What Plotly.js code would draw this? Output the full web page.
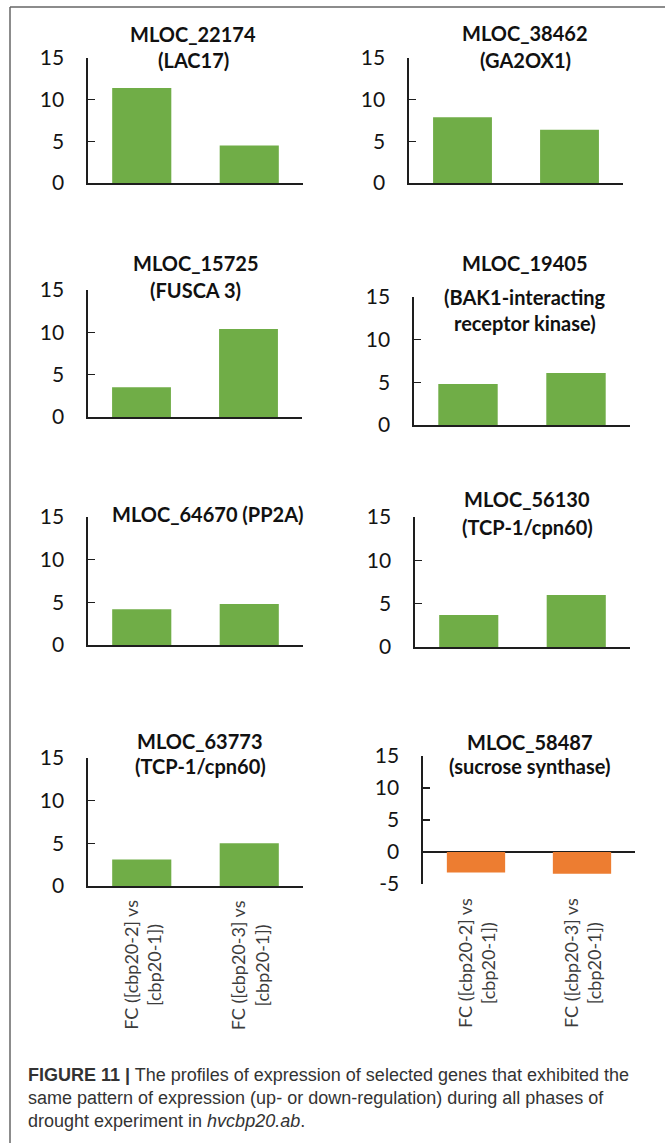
<!DOCTYPE html>
<html>
<head>
<meta charset="utf-8">
<script src="https://cdn.plot.ly/plotly-3.0.1.min.js"></script>
<style>
html,body{margin:0;padding:0;background:#fff;}
#chart{width:665px;height:1143px;}
</style>
</head>
<body>
<div id="chart"></div>
<script>
// ---------- DATA ----------
const categories = ['FC ([cbp20-2] vs [cbp20-1])', 'FC ([cbp20-3] vs [cbp20-1])'];
const categoryLabels = ['FC ([cbp20-2] vs<br>[cbp20-1])', 'FC ([cbp20-3] vs<br>[cbp20-1])'];

const mloc22174 = [11.4, 4.5];
const mloc38462 = [7.9, 6.4];
const mloc15725 = [3.5, 10.4];
const mloc19405 = [4.8, 6.1];
const mloc64670 = [4.2, 4.8];
const mloc56130 = [3.7, 6.0];
const mloc63773 = [3.1, 5.0];
const mloc58487 = [-3.2, -3.4];

const seriesValues = [mloc22174, mloc38462, mloc15725, mloc19405, mloc64670, mloc56130, mloc63773, mloc58487];

const panelTitles = [
  ['MLOC_22174', '(LAC17)'],
  ['MLOC_38462', '(GA2OX1)'],
  ['MLOC_15725', '(FUSCA 3)'],
  ['MLOC_19405', '(BAK1-interacting', 'receptor kinase)'],
  ['MLOC_64670 (PP2A)'],
  ['MLOC_56130', '(TCP-1/cpn60)'],
  ['MLOC_63773', '(TCP-1/cpn60)'],
  ['MLOC_58487', '(sucrose synthase)']
];

const yTicksUp = [0, 5, 10, 15];
const yTicksDown = [-5, 0, 5, 10, 15];

const captionLines = [
  '<b>FIGURE 11 |</b> The profiles of expression of selected genes that exhibited the',
  'same pattern of expression (up- or down-regulation) during all phases of',
  'drought experiment in <i>hvcbp20.ab</i>.'
];

// ---------- LAYOUT GEOMETRY (pixels) ----------
const W = 665, H = 1143;
const fx = p => p / W;
const fy = p => 1 - p / H;

const geom = [
  {x0: 88,  x1: 303, y0: 58,  y1: 183, tx: 193, ty: [34, 60]},
  {x0: 409, x1: 623, y0: 58,  y1: 183, tx: 525, ty: [33, 60]},
  {x0: 88,  x1: 302, y0: 290, y1: 417, tx: 196, ty: [263, 290]},
  {x0: 414, x1: 630, y0: 297, y1: 425, tx: 525, ty: [263, 297, 323]},
  {x0: 88,  x1: 303, y0: 517, y1: 645, tx: 208, ty: [514]},
  {x0: 415, x1: 630, y0: 517, y1: 647, tx: 527, ty: [499, 527]},
  {x0: 88,  x1: 303, y0: 758, y1: 886, tx: 200, ty: [741, 766]},
  {x0: 423, x1: 635, y0: 756, y1: 884, tx: 530, ty: [742, 766]}
];

const GREEN = '#70AD47', ORANGE = '#ED7D31', AXIS = '#1e1e1e';
const FONT = 'Lato, "Open Sans", "DejaVu Sans", sans-serif';

const data = [];
const layout = {
  width: W, height: H,
  margin: {l: 0, r: 0, t: 0, b: 0},
  paper_bgcolor: '#ffffff',
  plot_bgcolor: 'rgba(0,0,0,0)',
  showlegend: false,
  bargap: 0.45,
  annotations: [],
  shapes: []
};

seriesValues.forEach((vals, i) => {
  const n = i + 1;
  const sfx = n === 1 ? '' : String(n);
  const g = geom[i];
  const negative = vals.every(v => v < 0);
  data.push({
    type: 'bar',
    x: categories,
    y: vals,
    xaxis: 'x' + sfx,
    yaxis: 'y' + sfx,
    marker: {color: negative ? ORANGE : GREEN, line: {width: 0}},
    hoverinfo: 'skip'
  });
  layout['xaxis' + sfx] = {
    domain: [fx(g.x0), fx(g.x1)],
    anchor: 'y' + sfx,
    type: 'category',
    showline: !negative,
    linecolor: AXIS,
    linewidth: 1.6,
    ticks: '',
    showticklabels: false,
    showgrid: false,
    zeroline: false,
    fixedrange: true
  };
  layout['yaxis' + sfx] = {
    domain: [fy(g.y1), fy(g.y0)],
    anchor: 'x' + sfx,
    range: negative ? [-5, 15] : [0, 15],
    tickvals: negative ? yTicksDown : yTicksUp,
    ticktext: (negative ? yTicksDown : yTicksUp).map(String),
    showline: true,
    linecolor: AXIS,
    linewidth: 1.6,
    ticks: 'inside',
    ticklen: 7,
    tickwidth: 1.6,
    tickcolor: AXIS,
    ticklabelstandoff: 18,
    tickfont: {family: FONT, size: 21, color: '#141414'},
    showgrid: false,
    zeroline: negative,
    zerolinecolor: AXIS,
    zerolinewidth: 1.6,
    fixedrange: true
  };
  panelTitles[i].forEach((line, k) => {
    layout.annotations.push({
      xref: 'paper', yref: 'paper',
      x: fx(g.tx), y: fy(g.ty[k]),
      xanchor: 'center', yanchor: 'middle',
      text: '<b>' + line + '</b>',
      showarrow: false,
      font: {family: FONT, size: 20, color: '#111'}
    });
  });
  // rotated category labels under the bottom row
  if (n >= 7) {
    categories.forEach((c, j) => {
      layout.annotations.push({
        xref: 'x' + sfx, yref: 'paper',
        x: c, y: fy(g.y1 + 12),
        xanchor: 'center', yanchor: 'top',
        text: categoryLabels[j],
        textangle: -90,
        align: 'center',
        showarrow: false,
        font: {family: FONT, size: 18, color: '#3c3c3c'}
      });
    });
  }
});

// caption
const capY = [1075, 1098, 1121];
captionLines.forEach((t, k) => {
  layout.annotations.push({
    xref: 'paper', yref: 'paper',
    x: fx(26), y: fy(capY[k]),
    xanchor: 'left', yanchor: 'middle',
    text: t,
    align: 'left',
    showarrow: false,
    font: {family: '"Liberation Sans", Arial, sans-serif', size: 18, color: '#333'}
  });
});

// outer frame (top and left edges visible)
layout.shapes.push({
  type: 'line', xref: 'paper', yref: 'paper',
  x0: fx(10), x1: fx(665), y0: fy(7), y1: fy(7),
  line: {color: '#666', width: 1.5}
});
layout.shapes.push({
  type: 'line', xref: 'paper', yref: 'paper',
  x0: fx(10), x1: fx(10), y0: fy(7), y1: fy(1143),
  line: {color: '#666', width: 1.5}
});

Plotly.newPlot('chart', data, layout, {displayModeBar: false, staticPlot: true});
</script>
</body>
</html>
